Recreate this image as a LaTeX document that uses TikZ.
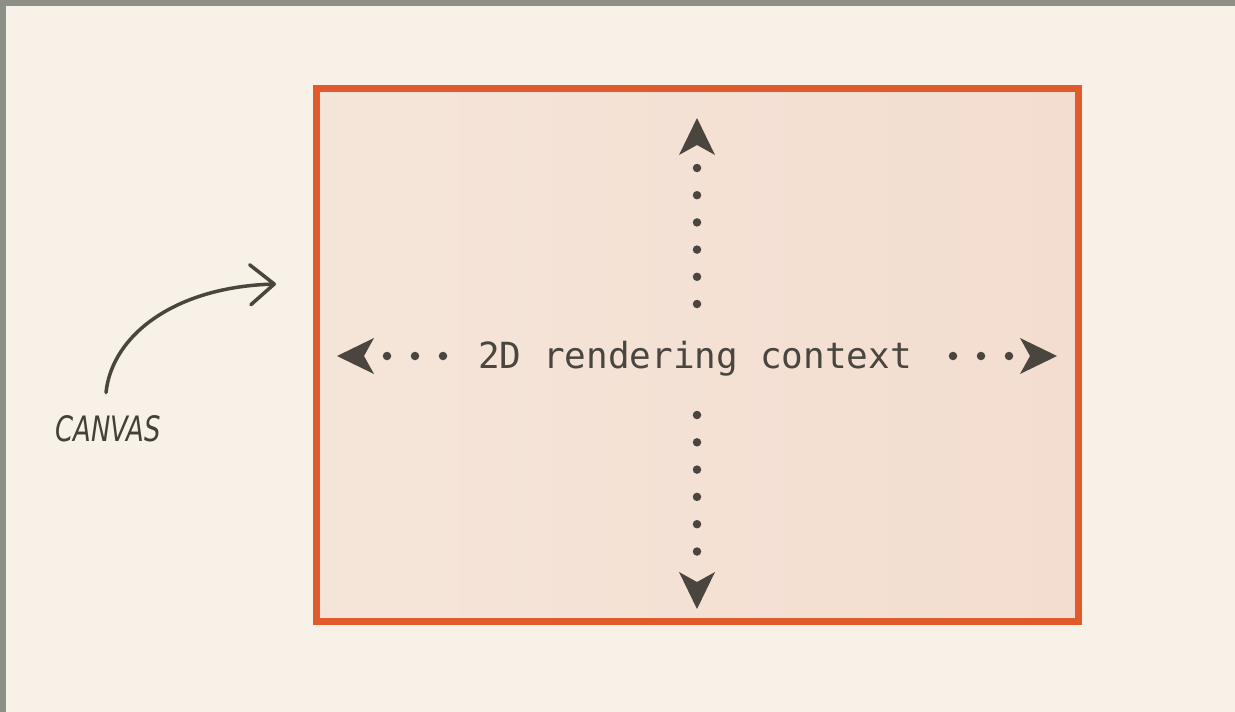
\documentclass[tikz,border=0pt]{standalone}
\usepackage{graphicx}
\usepackage{fontspec}
\newfontfamily\ctxfont{DejaVu Sans Mono}
\newfontfamily\handfont{DejaVu Sans}
\usepackage{tikz}
\usetikzlibrary{arrows.meta,positioning}
\definecolor{cvpaper}{HTML}{F7F1E7}
\definecolor{cvframe}{HTML}{8E8F87}
\definecolor{cvorange}{HTML}{E05A2B}
\definecolor{cvfillA}{HTML}{F5E5D9}
\definecolor{cvfillB}{HTML}{F3DDD0}
\definecolor{cvink}{HTML}{4A463F}

\begin{document}
\begin{tikzpicture}[x=1pt,y=-1pt,
  tipped/.style={-{Stealth[length=37pt,width=36pt,inset=10pt,line width=0pt]}},
  dots/.style={cvink,line width=8.5pt,line cap=round,dash pattern=on 0pt off #1,tipped}]
  \useasboundingbox (0,0) rectangle (1235,712);
  \fill[cvpaper] (0,0) rectangle (1235,712);
  \fill[cvframe] (0,0) rectangle (1235,6);
  \fill[cvframe] (0,0) rectangle (6,712);
  % the canvas box
  \node[draw=cvorange,line width=7pt,left color=cvfillA,right color=cvfillB,
        minimum width=762pt,minimum height=533pt,inner sep=0pt] (box) at (697,354.5) {};
  \node[font=\ctxfont\fontsize{36}{40}\selectfont,text=cvink,inner sep=0pt,anchor=base] (ctx) at (695,368) {2D rendering context};
  \coordinate (hub) at (697,356);
  \coordinate (top) at (697,118);
  \coordinate (bot) at (697,609);
  \coordinate (lft) at (337,356);
  \coordinate (rgt) at (1057,356);
  \draw[dots=27.2pt,shorten <=52pt] (hub) -- (top);
  \draw[dots=27.3pt,dash pattern={on 0pt off 27.3pt on 0pt off 27.3pt on 0pt off 27.3pt
        on 0pt off 27.3pt on 0pt off 27.3pt on 0pt off 90pt},shorten <=59pt] (hub) -- (bot);
  \draw[dots=28pt,shorten <=254pt] (hub) -- (lft);
  \draw[dots=28pt,shorten <=256pt] (hub) -- (rgt);
  % label with its curved pointer
  \node[font=\handfont\itshape\fontsize{35}{35}\selectfont,text=cvink!90!black,inner sep=0pt] (canvas) at (108,429) {\scalebox{0.74}[1]{CANVAS}};
  \coordinate[above=23pt of canvas.north,xshift=-2pt] (tail);
  \coordinate (aim) at (276,284);
  \draw[cvink,line width=3.5pt,line cap=round,-{Straight Barb[length=24pt,width=40pt,round]}]
    (tail) .. controls (112,335) and (175,287) .. (aim);
\end{tikzpicture}
\end{document}
